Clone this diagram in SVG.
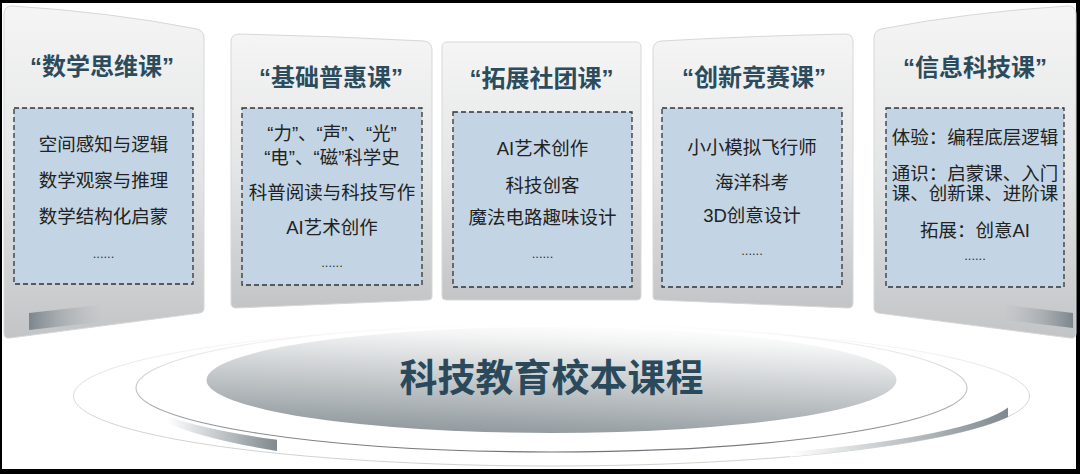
<svg xmlns="http://www.w3.org/2000/svg" width="1080" height="474" viewBox="0 0 1080 474">
<defs>
<linearGradient id="panelG" x1="0" y1="0" x2="0" y2="1">
<stop offset="0" stop-color="#f5f5f5"/><stop offset="0.5" stop-color="#e4e5e6"/><stop offset="1" stop-color="#c2c4c6"/>
</linearGradient>
<linearGradient id="barL" x1="0" y1="0" x2="1" y2="0">
<stop offset="0" stop-color="#7b868d"/><stop offset="1" stop-color="#c4c6c8" stop-opacity="0.3"/>
</linearGradient>
<linearGradient id="barR" x1="1" y1="0" x2="0" y2="0">
<stop offset="0" stop-color="#7b868d"/><stop offset="1" stop-color="#c4c6c8" stop-opacity="0.3"/>
</linearGradient>
<linearGradient id="baseG" x1="0.65" y1="0" x2="0.4" y2="1">
<stop offset="0" stop-color="#ffffff"/><stop offset="0.15" stop-color="#f2f3f3"/><stop offset="1" stop-color="#929a9f"/>
</linearGradient>
<linearGradient id="ring1G" x1="0" y1="0" x2="0" y2="1">
<stop offset="0" stop-color="#ffffff"/><stop offset="0.5" stop-color="#c8c8c8"/><stop offset="1" stop-color="#6f7478"/>
</linearGradient>
<linearGradient id="ring2G" x1="0" y1="0" x2="0" y2="1">
<stop offset="0" stop-color="#ffffff"/><stop offset="0.5" stop-color="#d6d6d6"/><stop offset="1" stop-color="#d0d0d0"/>
</linearGradient>
<linearGradient id="swL" gradientUnits="userSpaceOnUse" x1="167" y1="0" x2="277" y2="0">
<stop offset="0" stop-color="#ffffff"/><stop offset="1" stop-color="#7f898f"/>
</linearGradient>
<linearGradient id="swR" gradientUnits="userSpaceOnUse" x1="790" y1="0" x2="1008" y2="0">
<stop offset="0" stop-color="#ffffff"/><stop offset="1" stop-color="#7f898f"/>
</linearGradient>
</defs>
<style>
.panel{fill:url(#panelG);stroke:#d6d7d8;stroke-width:1}
.box{fill:#c3d5e5;stroke:#333;stroke-width:1.3;stroke-dasharray:5 3}
.title{font-family:"Liberation Sans","Noto Sans CJK SC",sans-serif;font-weight:bold;font-size:24px;fill:#2c4b5c;text-anchor:middle}
.item{font-family:"Liberation Sans","Noto Sans CJK SC",sans-serif;font-size:18.5px;fill:#222;text-anchor:middle}
.dots{font-family:"Liberation Sans",sans-serif;font-size:13px;fill:#333;text-anchor:middle}
.main{font-family:"Liberation Sans","Noto Sans CJK SC",sans-serif;font-weight:bold;font-size:38px;fill:#2a4a5c;text-anchor:middle}
</style>
<rect x="0" y="0" width="1080" height="474" fill="#000"/>
<rect x="2" y="3" width="1074" height="466" fill="#fff"/>

<g id="base">
<ellipse cx="551.5" cy="396" rx="478" ry="70" fill="none" stroke="url(#ring2G)" stroke-width="1"/>
<ellipse cx="551.5" cy="388" rx="415.5" ry="64" fill="none" stroke="url(#ring1G)" stroke-width="1.2"/>
<path d="M167,416 A418,66 0 0 0 277,439.8 L277,451 A420,78 0 0 1 167,423 Z" fill="url(#swL)"/>
<path d="M790,451.8 A464,65 0 0 0 1008,407.6 L1008,417 A478,70 0 0 1 790,456.7 Z" fill="url(#swR)"/>
<ellipse cx="551.5" cy="380" rx="345" ry="53" fill="url(#baseG)"/>
<text class="main" x="551.5" y="391">科技教育校本课程</text>
</g>

<g id="p1">
<path class="panel" d="M4,14 Q4,6 12,6 Q110,12 197,29 Q204,31 204,38 L204,309 Q204,312 200,313 L10,338 Q4,339 4,333 Z"/>
<polygon points="29,313 100,305 100,322 29,330" fill="url(#barL)"/>
<text class="title" x="102" y="75">“数学思维课”</text>
<rect class="box" x="14" y="108" width="179" height="176"/>
<text class="item" x="103.5" y="150.5">空间感知与逻辑</text>
<text class="item" x="103.5" y="187">数学观察与推理</text>
<text class="item" x="103.5" y="222.5">数学结构化启蒙</text>
<text class="dots" x="103.5" y="258">......</text>
</g>

<g id="p2">
<path class="panel" d="M231,42 Q231,34 239,34 Q330,36 424,41 Q432,42 432,50 L432,297 Q432,300 428,300 L236,308 Q231,308 231,303 Z"/>
<text class="title" x="331" y="86">“基础普惠课”</text>
<rect class="box" x="242" y="108" width="180" height="177"/>
<text class="item" x="332" y="140">“力”、“声”、“光”</text>
<text class="item" x="332" y="164">“电”、“磁”科学史</text>
<text class="item" x="332" y="199">科普阅读与科技写作</text>
<text class="item" x="332" y="234">AI艺术创作</text>
<text class="dots" x="332" y="267">......</text>
</g>

<g id="p3">
<path class="panel" d="M442,47 Q442,42 447,42 L636,42 Q641,42 641,47 L641,296 Q641,300 637,300 L446,300 Q442,300 442,296 Z"/>
<text class="title" x="541.5" y="87">“拓展社团课”</text>
<rect class="box" x="453" y="112" width="179" height="175"/>
<text class="item" x="542.5" y="155">AI艺术创作</text>
<text class="item" x="542.5" y="192">科技创客</text>
<text class="item" x="542.5" y="224">魔法电路趣味设计</text>
<text class="dots" x="542.5" y="258">......</text>
</g>

<g id="p4">
<path class="panel" d="M653,50 Q653,42 661,41 Q750,36 845,34 Q853,34 853,42 L853,303 Q853,308 848,308 L657,300 Q653,300 653,297 Z"/>
<text class="title" x="754" y="86">“创新竞赛课”</text>
<rect class="box" x="662" y="108" width="180" height="179"/>
<text class="item" x="752" y="154">小小模拟飞行师</text>
<text class="item" x="752" y="189">海洋科考</text>
<text class="item" x="752" y="222">3D创意设计</text>
<text class="dots" x="752" y="255">......</text>
</g>

<g id="p5">
<path class="panel" d="M874,38 Q874,31 881,29 Q970,12 1068,6 Q1076,6 1076,14 L1076,333 Q1076,339 1070,338 L878,313 Q874,312 874,309 Z"/>
<polygon points="1005,305 1073,313 1073,328 1005,320" fill="url(#barR)"/>
<text class="title" x="975" y="76">“信息科技课”</text>
<rect class="box" x="886" y="108" width="178" height="179"/>
<text class="item" x="975" y="144">体验：编程底层逻辑</text>
<text class="item" x="975" y="180">通识：启蒙课、入门</text>
<text class="item" x="975" y="200">课、创新课、进阶课</text>
<text class="item" x="975" y="237">拓展：创意AI</text>
<text class="dots" x="975" y="260">......</text>
</g>
</svg>
